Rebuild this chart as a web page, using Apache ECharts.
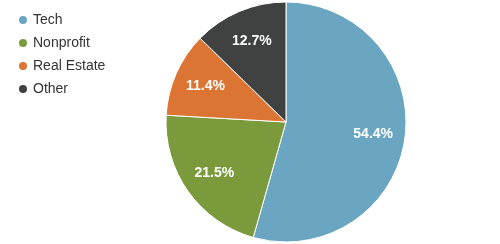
<!DOCTYPE html>
<html><head><meta charset="utf-8">
<script src="https://cdn.jsdelivr.net/npm/echarts@6/dist/echarts.min.js"></script>
<style>html,body{margin:0;padding:0;background:#fff}#c{width:500px;height:244px}</style>
</head><body><div id="c"></div>
<script>
const categories = ['Tech', 'Nonprofit', 'Real Estate', 'Other'];
const values = [54.4, 21.5, 11.4, 12.7];
const colors = ['#6aa6c1', '#7a9a3c', '#dc7434', '#404242'];

const data = categories.map((n, i) => ({ name: n, value: values[i], itemStyle: { color: colors[i] } }));
const chart = echarts.init(document.getElementById('c'));
chart.setOption({
  animation: false,
  legend: {
    orient: 'vertical', left: 12, top: 8,
    icon: 'circle', itemWidth: 10, itemHeight: 10, itemGap: 9,
    textStyle: { fontFamily: 'Liberation Sans, Arial', fontSize: 14, color: '#333' },
    data: categories
  },
  series: [{
    type: 'pie', center: [286, 122], radius: [0, 120],
    startAngle: 90, clockwise: true,
    itemStyle: { borderColor: '#fff', borderWidth: 1 },
    label: { show: false }, labelLine: { show: false },
    data: data
  }, {
    type: 'pie', center: [286, 122], radius: [50, 120],
    startAngle: 90, clockwise: true, silent: true,
    legendHoverLink: false,
    itemStyle: { color: 'transparent', borderWidth: 0 },
    label: {
      show: true, position: 'inside', formatter: p => p.value.toFixed(1) + '%',
      color: '#fff', fontWeight: 'bold', fontSize: 14, fontFamily: 'Liberation Sans, Arial'
    },
    labelLine: { show: false },
    data: categories.map((n, i) => ({ name: n + ' ', value: values[i] }))
  }]
});
</script></body></html>
